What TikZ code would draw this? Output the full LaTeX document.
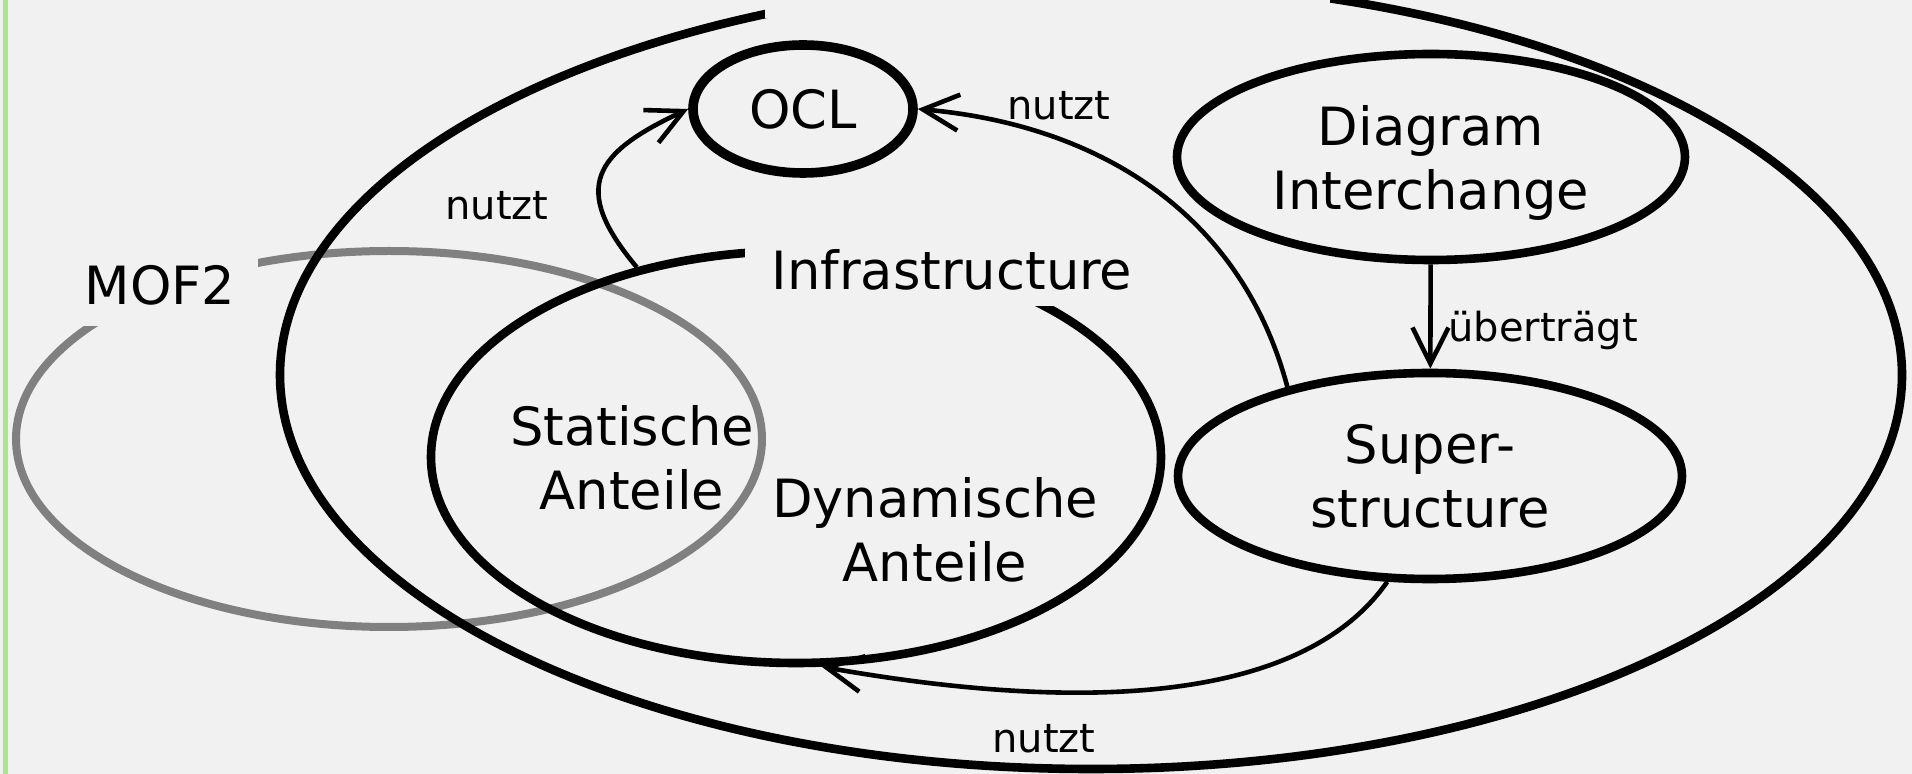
\documentclass[tikz,border=0pt]{standalone}
\usepackage{fontspec}
\setmainfont{DejaVu Sans}
\usetikzlibrary{shapes.geometric,arrows.meta}
\definecolor{bgcol}{RGB}{241,241,241}
\definecolor{barcol}{RGB}{168,232,136}
\definecolor{mofcol}{RGB}{128,128,128}

\begin{document}
\begin{tikzpicture}
  [x=0.5pt,y=-0.5pt,
   pkg/.style={ellipse,draw,line width=4.3pt,inner sep=0pt,align=center,
     font=\fontsize{26.35}{32}\selectfont},
   big/.style={align=center,font=\fontsize{26.35}{32}\selectfont},
   gap/.style={big,fill=bgcol,inner sep=0pt},
   lbl/.style={anchor=base west,inner sep=0pt,font=\fontsize{20}{24}\selectfont},
   rel/.style={line width=2.3pt,-{Straight Barb[length=18pt,width=18pt]}}]
  \fill[bgcol] (0,0) rectangle (1912,774);
  \fill[barcol] (3,0) rectangle (8,774);
  \useasboundingbox (0,0) rectangle (1912,774);
  \clip (0,0) rectangle (1912,774);

  \node[pkg,draw=mofcol,line width=4pt,minimum width=373pt,minimum height=188pt] (mof) at (389,439) {};
  \node[gap,minimum width=98pt,minimum height=41pt] (mofname) at (160,285) {MOF2};
  \node[pkg,minimum width=811pt,minimum height=394pt] (uml) at (1091,375) {};
  \fill[bgcol] (765,-30) rectangle (1330,18);
  \node[pkg,minimum width=365pt,minimum height=206pt] (infra) at (796,457) {};
  \node[gap,minimum width=207.5pt,minimum height=36pt] (infraname) at (952,270) {Infrastructure};
  \node[pkg,line width=4.8pt,minimum width=110pt,minimum height=64pt] (ocl) at (803,109) {OCL};
  \node[pkg,minimum width=254pt,minimum height=103pt] (di) at (1431,157) {Diagram\\\smash{Interchange}};
  \node[pkg,minimum width=252pt,minimum height=103pt] (super) at (1430,476) {Super-\\structure};
  \node[big] (static) at (632,458) {Statische\\Anteile};
  \node[big] (dynamic) at (935,530) {Dynamische\\Anteile};

  \foreach \from/\to/\o/\i/\l in
  {infra.130/ocl.west/130/205/1.6, super.148/ocl.east/105/-5/1, super.-112/infra.-83/-125/-10/0.8}
    \draw[rel] (\from) to[out=\o,in=\i,looseness=\l] (\to);
  \draw[rel] (di) -- (super);

  \node[lbl] (nutzt1) at (445,220) {nutzt};
  \node[lbl] (nutzt2) at (1007,120) {nutzt};
  \node[lbl] (nutzt3) at (992,752) {nutzt};
  \node[lbl] (traegt) at (1448,342) {überträgt};
\end{tikzpicture}
\end{document}
